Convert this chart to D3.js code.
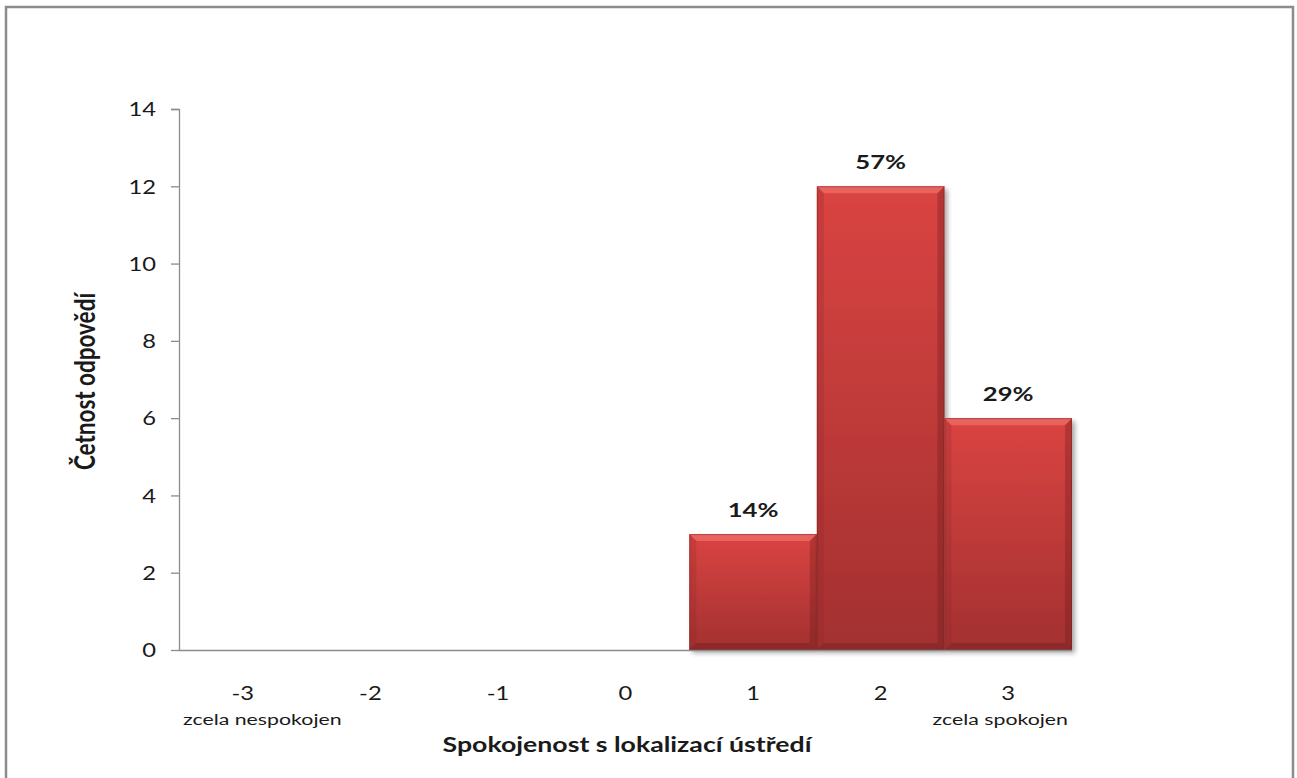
<!DOCTYPE html>
<html>
<head>
<meta charset="utf-8">
<script src="https://cdn.jsdelivr.net/npm/d3@7"></script>
<style>
  html, body { margin: 0; padding: 0; background: #fff; }
  svg { display: block; }
  text { font-family: Lato, "Open Sans", sans-serif; fill: #1a1a1a; }
</style>
</head>
<body>
<svg id="chart" width="1297" height="778"></svg>
<script>
// Satisfaction scale and response counts
const categories = ["-3", "-2", "-1", "0", "1", "2", "3"];
const counts = [0, 0, 0, 0, 3, 12, 6];
const shareLabels = ["", "", "", "", "14%", "57%", "29%"];
const yTicks = [0, 2, 4, 6, 8, 10, 12, 14];
const endLabels = { "-3": "zcela nespokojen", "3": "zcela spokojen" };
const xTitle = "Spokojenost s lokalizací ústředí";
const yTitle = "Četnost odpovědí";

const svg = d3.select("#chart");
const W = 1297, H = 778;
const m = { left: 179, right: 225, top: 109, bottom: 128 };
const plotW = W - m.left - m.right;
const plotH = H - m.top - m.bottom;

// wide-set lettering: place text at (x, y) and widen it horizontally
function wide(sel, x, y, sx) {
  sel.attr("x", 0).attr("y", 0)
    .attr("transform", (d, i, n) => {
      const xx = typeof x === "function" ? x(d, i, n) : x;
      const yy = typeof y === "function" ? y(d, i, n) : y;
      return `translate(${xx},${yy}) scale(${sx},1)`;
    });
  return sel;
}

// outer frame
svg.append("path")
  .attr("d", `M6,${H} V7 H1293 V${H}`)
  .attr("fill", "none").attr("stroke", "#8c8c8c").attr("stroke-width", 2.5);

const defs = svg.append("defs");
const grad = defs.append("linearGradient").attr("id", "barFill")
  .attr("x1", 0).attr("y1", 0).attr("x2", 0).attr("y2", 1);
grad.append("stop").attr("offset", "0%").attr("stop-color", "#da4442");
grad.append("stop").attr("offset", "100%").attr("stop-color", "#a33030");

const shadow = defs.append("filter").attr("id", "shadow")
  .attr("x", "-10%").attr("y", "-10%").attr("width", "130%").attr("height", "130%");
shadow.append("feGaussianBlur").attr("in", "SourceAlpha").attr("stdDeviation", 2.5).attr("result", "b");
shadow.append("feOffset").attr("in", "b").attr("dx", 3).attr("dy", 3).attr("result", "o");
shadow.append("feComponentTransfer").attr("in", "o").attr("result", "s")
  .append("feFuncA").attr("type", "linear").attr("slope", 0.35);
const mg = shadow.append("feMerge");
mg.append("feMergeNode").attr("in", "s");
mg.append("feMergeNode").attr("in", "SourceGraphic");

const g = svg.append("g").attr("transform", `translate(${m.left},${m.top})`);

const x = d3.scaleBand().domain(categories).range([0, plotW]).padding(0);
const y = d3.scaleLinear().domain([0, 14]).range([plotH, 0]);

// y axis
const yAxis = g.append("g").call(d3.axisLeft(y).tickValues(yTicks).tickSize(8).tickPadding(12));
yAxis.select(".domain").attr("stroke", "#8c8c8c").attr("stroke-width", 1.3)
  .attr("d", `M-8,0.5H0.5V${plotH}`);
yAxis.selectAll(".tick line").attr("stroke", "#8c8c8c").attr("stroke-width", 1.3);
yAxis.selectAll(".tick text").attr("font-size", 19).attr("fill", "#1a1a1a")
  .style("font-family", "Lato, 'Open Sans', sans-serif")
  .attr("dy", "0.36em")
  .call(wide, -23, 0, 1.25);

// bars
const data = categories.map((c, i) => ({ c, v: counts[i], label: shareLabels[i] }));
const bars = g.append("g").selectAll("g.bar").data(data.filter(d => d.v > 0)).join("g")
  .attr("class", "bar");

bars.append("rect")
  .attr("x", d => x(d.c)).attr("y", d => y(d.v))
  .attr("width", x.bandwidth()).attr("height", d => y(0) - y(d.v))
  .attr("fill", "url(#barFill)").attr("filter", "url(#shadow)");

// bevelled edges
const bv = 7;
function bevel(d, side) {
  const x0 = x(d.c), x1 = x0 + x.bandwidth(), y0 = y(d.v), y1 = y(0);
  if (side === "top") return `M${x0},${y0}H${x1}L${x1 - bv},${y0 + bv}H${x0 + bv}Z`;
  if (side === "left") return `M${x0},${y0}L${x0 + bv},${y0 + bv}V${y1 - bv}L${x0},${y1}Z`;
  if (side === "right") return `M${x1},${y0}L${x1 - bv},${y0 + bv}V${y1 - bv}L${x1},${y1}Z`;
  return `M${x0},${y1}L${x0 + bv},${y1 - bv}H${x1 - bv}L${x1},${y1}Z`;
}
bars.append("path").attr("d", d => bevel(d, "top")).attr("fill", "#ec6a66").attr("opacity", 0.8);
bars.append("path").attr("d", d => bevel(d, "left")).attr("fill", "#8f2626").attr("opacity", 0.25);
bars.append("path").attr("d", d => bevel(d, "right")).attr("fill", "#6e1c1c").attr("opacity", 0.35);
bars.append("path").attr("d", d => bevel(d, "bottom")).attr("fill", "#6e1c1c").attr("opacity", 0.4);
bars.append("rect")
  .attr("x", d => x(d.c) + 0.5).attr("y", d => y(d.v) + 0.5)
  .attr("width", x.bandwidth() - 1).attr("height", d => y(0) - y(d.v) - 1)
  .attr("fill", "none").attr("stroke", "#7a2020").attr("stroke-opacity", 0.45);

// value labels
bars.append("text")
  .attr("text-anchor", "middle").attr("font-size", 19).attr("font-weight", 700)
  .text(d => d.label)
  .call(wide, d => x(d.c) + x.bandwidth() / 2, d => y(d.v) - 17, 1.35);

// x axis line
g.append("line").attr("x1", 0).attr("x2", plotW).attr("y1", plotH + 0.5).attr("y2", plotH + 0.5)
  .attr("stroke", "#8c8c8c").attr("stroke-width", 1.3);

// category labels
const xl = g.append("g");
xl.selectAll("text.cat").data(categories).join("text").attr("class", "cat")
  .attr("text-anchor", "middle").attr("font-size", 19).text(d => d)
  .call(wide, d => x(d) + x.bandwidth() / 2, plotH + 50, 1.25);
xl.selectAll("text.end").data(Object.keys(endLabels)).join("text").attr("class", "end")
  .attr("text-anchor", d => d === "-3" ? "start" : "end")
  .attr("font-size", 14.5).text(d => endLabels[d])
  .call(wide, d => d === "-3" ? x(d) + 4 : x(d) + x.bandwidth() - 4, plotH + 75, 1.47);

// axis titles
svg.append("text")
  .attr("text-anchor", "middle").attr("font-size", 21).attr("font-weight", 700).text(xTitle)
  .call(wide, m.left + 448, 752, 1.27);
svg.append("text")
  .attr("transform", `translate(95,${m.top + plotH / 2 + 2}) rotate(-90) scale(1,1.25)`)
  .attr("text-anchor", "middle").attr("font-size", 22.5).attr("font-weight", 700).text(yTitle);
</script>
</body>
</html>
